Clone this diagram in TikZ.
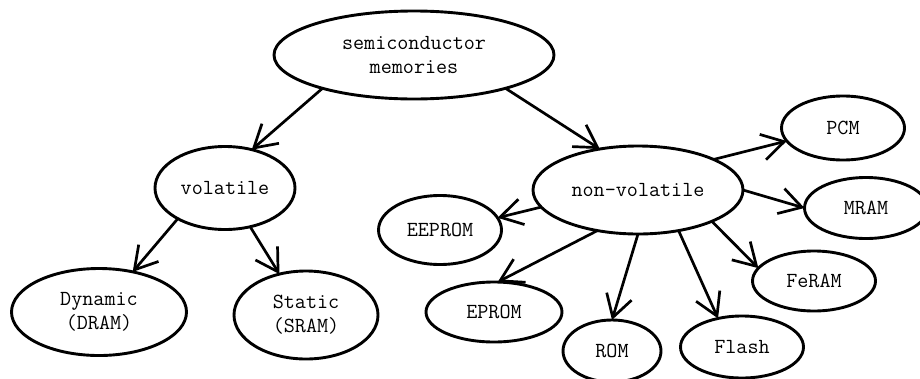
\documentclass[tikz,border=0pt]{standalone}
\usetikzlibrary{shapes.geometric,arrows.meta}

\tikzset{
  mem/.style={draw, ellipse, line width=2.9pt, inner sep=0pt, outer sep=0pt,
    align=center, font=\ttfamily\fontsize{21.5}{24}\selectfont},
  link/.style={line width=2.7pt, -{Straight Barb[length=22pt,width=26pt]}}
}

\begin{document}
\begin{tikzpicture}[x=1pt, y=-1pt]
  \useasboundingbox (0,0) rectangle (920,378);
  \clip (0,0) rectangle (920,378);

  % tree of memory types
  \node[mem, minimum width=280pt, minimum height=88pt] (root) at (414,55)
    {semiconductor\\memories};
  \node[mem, minimum width=140pt, minimum height=83pt] (vol) at (225,188) {volatile};
  \node[mem, minimum width=175pt, minimum height=87pt] (dram) at (99,312)
    {Dynamic\\(DRAM)};
  \node[mem, minimum width=144pt, minimum height=88pt] (sram) at (306,315)
    {Static\\(SRAM)};
  \node[mem, minimum width=210pt, minimum height=88pt] (nvol) at (638,190) {non-volatile};
  \node[mem, minimum width=123pt, minimum height=64pt] (pcm) at (843,128) {PCM};
  \node[mem, minimum width=123pt, minimum height=61pt] (mram) at (866,208) {MRAM};
  \node[mem, minimum width=123pt, minimum height=60pt] (feram) at (814,281) {FeRAM};
  \node[mem, minimum width=123pt, minimum height=62pt] (flash) at (742,347) {Flash};
  \node[mem, minimum width=98pt, minimum height=62pt] (rom) at (612,351) {ROM};
  \node[mem, minimum width=136pt, minimum height=60pt] (eprom) at (494,312) {EPROM};
  \node[mem, minimum width=123pt, minimum height=69pt] (eeprom) at (440,230) {EEPROM};

  % connectors
  \draw[link] (root.200.5) -- (vol.55.7);
  \draw[link] (root.340.9) -- (nvol.133.6);
  \draw[link] (vol.213.2) -- (dram.50.2);
  \draw[link] (vol.303.7) -- (sram.123.7);
  \draw[link] (nvol.22.9) -- (pcm.193.1);
  \draw[link] (nvol.0) -- (mram.180);
  \draw[link] (nvol.337) -- (feram.167.4);
  \draw[link] (nvol.315) -- (flash.130.2);
  \draw[link] (nvol.270) -- (rom.90);
  \draw[link] (nvol.225) -- (eprom.83);
  \draw[link] (nvol.190) -- (eeprom.12.6);
\end{tikzpicture}
\end{document}
